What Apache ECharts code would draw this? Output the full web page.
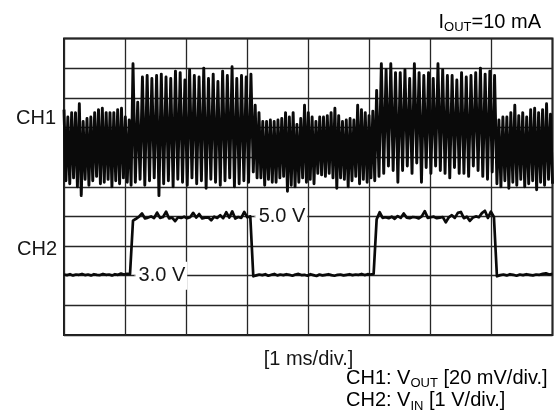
<!DOCTYPE html>
<html>
<head>
<meta charset="utf-8">
<script src="https://cdn.jsdelivr.net/npm/echarts@6/dist/echarts.min.js"></script>
<style>
html,body{margin:0;padding:0;background:#fff;}
#chart{width:558px;height:414px;}
</style>
</head>
<body>
<div id="chart"></div>
<script>
// ---- data ----
// times (ms) where VIN changes state: low, high, low, high, low
const STATE_EDGES_MS = [0, 1.13, 3.10, 5.12, 7.09, 8.0];

// CH1: VOUT ripple, mV (alternating peak / trough extremes, per state segment)
const CH1_LOW_1 = [12, -36, 7, -38, 10, -34, 10, -40, 16, -46, 4, -35, 6, -39, 7, -36, 10, -33, 12, -38, 13, -37, 10, -35, 10, -40, 10, -36, 12, -38, 13, -34, 7, -37, 5, -39];
const CH1_HIGH_1 = [43, -37, 17, -35, 34, -39, 35, -36, 33, -34, 35, -46, 36, -38, 34, -36, 33, -40, 38, -35, 37, -37, 32, -39, 39, -34, 35, -38, 34, -36, 40, -41, 33, -35, 36, -37, 31, -39, 38, -36, 35, -34, 41, -40, 33, -38, 35, -36, 34, -37, 36];
const CH1_LOW_2 = [-30, 15, -34, 10, -34, 4, -39, 4, -35, 5, -37, 4, -37, 5, -34, 6, -33, 10, -43, 7, -39, 10, -40, 2, -37, 6, -34, 15, -37, 10, -35, 7, -38, 4, -31, 7, -32, 7, -33, 8, -31, 10, -34, 13, -41, 8, -34, 4, -35, 5, -40, 6, -36, 5, -33, 15, -38, 12, -35, 10, -37, 8, -34, 11, -36];
const CH1_HIGH_2 = [25, -33, 43, -31, 39, -26, 43, -29, 37, -37, 37, -29, 39, -26, 33, -31, 43, -24, 37, -37, 35, -27, 37, -31, 33, -26, 43, -29, 39, -31, 35, -34, 35, -27, 32, -31, 37, -31, 34, -33, 35, -26, 37, -29, 40, -33, 36, -35, 38, -30, 35];
const CH1_LOW_3 = [-38, 5, -40, 7, -36, 7, -41, 10, -37, 15, -39, 8, -35, 10, -40, 7, -38, 12, -36, 13, -42, 10, -37, 12, -39, 16, -35, 9, -38];

// CH2: VIN, volts
const CH2_LOW_1 = [3.04, 3.02, 3.05, 3.01, 3.04, 3.03, 3.06, 3.02, 3.04, 3.01, 3.05, 3.03, 3.02, 3.06, 3.03, 3.04, 3.01, 3.05, 3.03, 3.07, 3.04, 3.06, 3.05];
const CH2_HIGH_1 = [4.86, 4.92, 4.99, 5.1, 4.93, 4.96, 5.0, 4.94, 5.13, 4.95, 4.98, 5.16, 4.93, 4.96, 4.84, 4.97, 4.95, 4.99, 4.94, 4.97, 5.12, 4.96, 5.08, 4.93, 4.96, 4.97, 4.87, 4.99, 4.95, 5.04, 4.94, 5.14, 4.96, 5.17, 4.93, 4.98, 4.95, 5.15, 4.97, 5.0];
const CH2_LOW_2 = [2.98, 3.01, 3.04, 3.02, 3.05, 3.0, 3.03, 3.06, 3.01, 3.04, 3.02, 3.05, 3.03, 3.0, 3.04, 3.06, 3.02, 3.03, 3.0, 3.05, 3.02, 2.99, 3.04, 3.01, 3.03, 3.05, 3.02, 3.0, 3.03, 3.04, 3.01, 3.03, 3.05, 3.02, 3.04, 3.03, 3.06, 3.02, 3.05, 3.04, 3.06];
const CH2_HIGH_2 = [4.9, 5.14, 4.95, 4.97, 4.94, 4.99, 4.92, 5.01, 4.95, 5.1, 4.96, 4.94, 4.98, 4.97, 4.93, 5.0, 5.18, 4.95, 4.97, 4.99, 4.94, 4.96, 4.98, 4.8, 4.97, 5.04, 4.95, 5.12, 5.15, 4.94, 4.99, 4.85, 4.96, 5.0, 4.97, 5.11, 5.19, 4.95, 5.16, 4.98];
const CH2_LOW_3 = [2.98, 3.02, 3.04, 3.01, 3.05, 3.03, 3.0, 3.04, 3.02, 3.05, 3.03, 3.01, 3.04, 3.03, 3.06, 3.08, 3.04, 3.06];

// level annotations on CH2
const LEVEL_TEXT = ['5.0 V', '3.0 V'];
const LEVEL_VALUE_V = [5.0, 3.0];
const LEVEL_AT_MS = [3.13, 1.163];

// axis scales
const TIME_DIVS_MS = [0, 8];          // 1 ms/div, 8 divisions
const CH2_RANGE_V = [1, 11];          // 1 V/div, 10 divisions
const CH1_RANGE_MV = [-140, 60];      // 20 mV/div, 10 divisions

// ---- build series (samples spread evenly within each state segment) ----
function buildTrace(segments) {
  const out = [];
  segments.forEach((vals, s) => {
    const t0 = STATE_EDGES_MS[s], t1 = STATE_EDGES_MS[s + 1];
    const last = s === segments.length - 1;
    const step = (t1 - t0) / (last ? vals.length - 1 : vals.length);
    vals.forEach((v, i) => out.push([t0 + i * step, v]));
  });
  return out;
}
const ch1Data = buildTrace([CH1_LOW_1, CH1_HIGH_1, CH1_LOW_2, CH1_HIGH_2, CH1_LOW_3]);
const ch2Data = buildTrace([CH2_LOW_1, CH2_HIGH_1, CH2_LOW_2, CH2_HIGH_2, CH2_LOW_3]);
const levelMarks = LEVEL_TEXT.map((txt, i) => ({ name: txt, coord: [LEVEL_AT_MS[i], LEVEL_VALUE_V[i]] }));

const FONT = "'Liberation Sans', Arial, Helvetica, sans-serif";
const INK = '#161616';
const rich = {
  m: { fontSize: 20, fontFamily: FONT, color: INK, lineHeight: 24 },
  s: { fontSize: 13, fontFamily: FONT, color: INK, lineHeight: 14, verticalAlign: 'bottom' }
};

const chart = echarts.init(document.getElementById('chart'), null, { renderer: 'canvas' });
chart.setOption({
  animation: false,
  backgroundColor: '#ffffff',
  grid: { left: 64, right: 5.5, top: 38.5, bottom: 79, show: true, borderColor: '#1c1c1c', borderWidth: 2, backgroundColor: 'transparent' },
  xAxis: {
    type: 'value', min: TIME_DIVS_MS[0], max: TIME_DIVS_MS[1], interval: 1,
    axisLine: { show: false }, axisTick: { show: false }, axisLabel: { show: false },
    splitLine: { show: true, lineStyle: { color: '#262626', width: 1.3 } }
  },
  yAxis: [
    {
      type: 'value', min: CH2_RANGE_V[0], max: CH2_RANGE_V[1], interval: 1,
      axisLine: { show: false }, axisTick: { show: false }, axisLabel: { show: false },
      splitLine: { show: true, lineStyle: { color: '#262626', width: 1.3 } }
    },
    {
      type: 'value', min: CH1_RANGE_MV[0], max: CH1_RANGE_MV[1], show: false,
      splitLine: { show: false }
    }
  ],
  series: [
    {
      name: 'CH1', type: 'line', yAxisIndex: 1, data: ch1Data, showSymbol: false, symbol: 'none',
      silent: true, clip: true, z: 3,
      lineStyle: { color: '#0a0a0a', width: 2.9, join: 'round' }
    },
    {
      name: 'CH2', type: 'line', yAxisIndex: 0, data: ch2Data, showSymbol: false, symbol: 'none',
      silent: true, clip: true, z: 4,
      lineStyle: { color: '#0a0a0a', width: 2.7, join: 'round' },
      markPoint: {
        silent: true, symbol: 'rect', symbolSize: 1,
        itemStyle: { color: '#ffffff', opacity: 1 },
        label: {
          show: true, position: 'right', distance: 0, formatter: '{b}',
          fontSize: 20, fontFamily: FONT, color: INK, opacity: 1,
          backgroundColor: '#ffffff', padding: [4, 2, 4, 3], lineHeight: 20
        },
        data: levelMarks
      }
    }
  ],
  graphic: [
    { type: 'text', x: 541, y: 22, z: 10, style: { text: '{m|I}{s|OUT}{m|=10 mA}', rich: rich, align: 'right', verticalAlign: 'middle' } },
    { type: 'text', x: 56, y: 118, z: 10, style: { text: 'CH1', font: '20px ' + FONT, fill: INK, align: 'right', verticalAlign: 'middle' } },
    { type: 'text', x: 57, y: 249.5, z: 10, style: { text: 'CH2', font: '20px ' + FONT, fill: INK, align: 'right', verticalAlign: 'middle' } },
    { type: 'text', x: 308.5, y: 359, z: 10, style: { text: '[1 ms/div.]', font: '20px ' + FONT, fill: INK, align: 'center', verticalAlign: 'middle' } },
    { type: 'text', x: 346, y: 378, z: 10, style: { text: '{m|CH1: V}{s|OUT}{m| [20 mV/div.]}', rich: rich, align: 'left', verticalAlign: 'middle' } },
    { type: 'text', x: 346, y: 400.5, z: 10, style: { text: '{m|CH2: V}{s|IN}{m| [1 V/div.]}', rich: rich, align: 'left', verticalAlign: 'middle' } }
  ]
});
</script>
</body>
</html>
